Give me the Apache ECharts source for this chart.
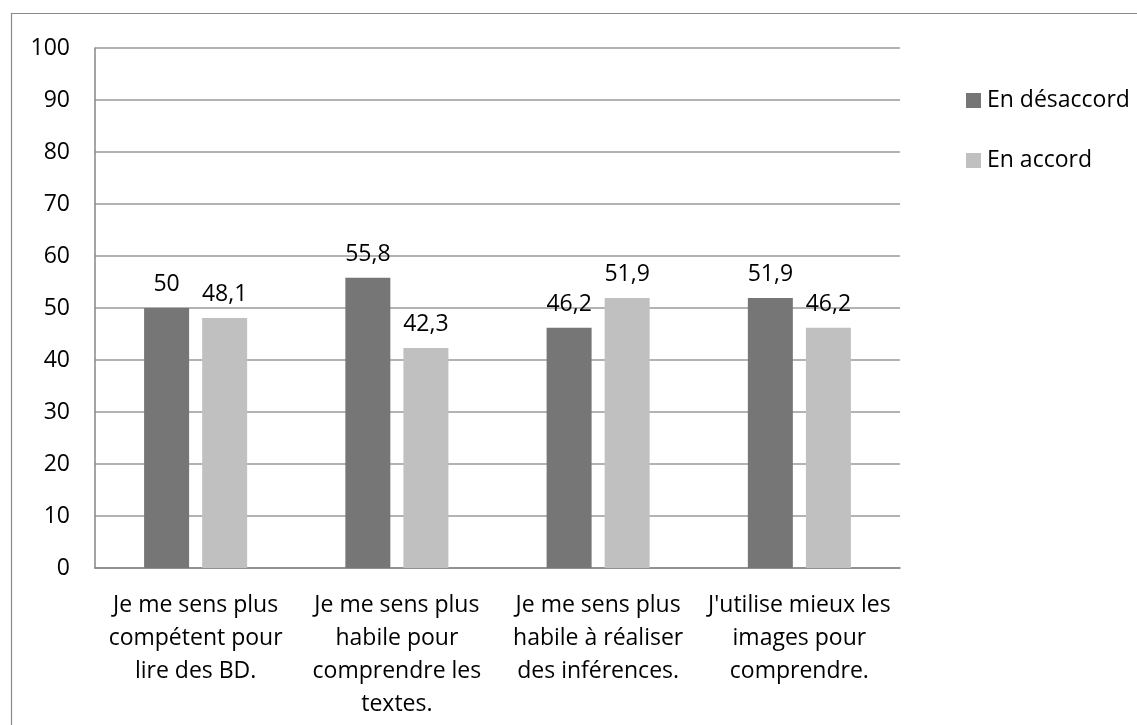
<!DOCTYPE html>
<html>
<head>
<meta charset="utf-8">
<script src="https://cdn.jsdelivr.net/npm/echarts@6/dist/echarts.min.js"></script>
<style>
html,body{margin:0;padding:0;background:#fff;}
#c{width:1137px;height:725px;}
</style>
</head>
<body>
<div id="c"></div>
<script>
const categories = [
  "Je me sens plus\ncompétent pour\nlire des BD.",
  "Je me sens plus\nhabile pour\ncomprendre les\ntextes.",
  "Je me sens plus\nhabile à réaliser\ndes inférences.",
  "J'utilise mieux les\nimages pour\ncomprendre."
];
const seriesNames = ["En désaccord", "En accord"];
const desaccord = [50, 55.8, 46.2, 51.9];
const accord = [48.1, 42.3, 51.9, 46.2];
const yTicks = [0, 10, 20, 30, 40, 50, 60, 70, 80, 90, 100];

const FONT = "'Open Sans', 'Noto Sans', sans-serif";
const FS = 23;
const chart = echarts.init(document.getElementById('c'));
const fmt = p => String(p.value).replace('.', ',');
chart.setOption({
  animation: false,
  backgroundColor: '#fff',
  textStyle: { fontFamily: FONT },
  graphic: [{
    type: 'rect', silent: true, z: -1,
    shape: { x: 11.5, y: 13.5, width: 1140, height: 730 },
    style: { fill: 'none', stroke: '#8a8a8a', lineWidth: 1.2 }
  }],
  legend: {
    orient: 'vertical',
    left: 961, top: 84,
    itemWidth: 15, itemHeight: 15, itemGap: 37,
    icon: 'rect',
    textStyle: { fontSize: FS, lineHeight: 23, color: '#000', fontFamily: FONT, padding: [0, 0, 0, 1] },
    data: seriesNames
  },
  grid: { left: 95, right: 237, top: 48, bottom: 157, containLabel: false },
  xAxis: {
    type: 'category',
    data: categories,
    axisLine: { show: true, lineStyle: { color: '#868686', width: 1.5 } },
    axisTick: { show: false },
    axisLabel: { color: '#000', fontSize: FS, lineHeight: 33, margin: 21, interval: 0, fontFamily: FONT, align: 'center' }
  },
  yAxis: {
    type: 'value',
    min: yTicks[0], max: yTicks[yTicks.length - 1], interval: 10,
    axisLine: { show: true, lineStyle: { color: '#868686', width: 1.5 } },
    axisTick: { show: false },
    splitLine: { lineStyle: { color: '#9a9a9a', width: 1.5 } },
    axisLabel: { color: '#000', fontSize: FS, margin: 25, fontFamily: FONT }
  },
  series: [
    {
      name: seriesNames[0], type: 'bar', data: desaccord,
      barWidth: 45, barGap: '29%',
      itemStyle: { color: '#767676' },
      label: { show: true, position: 'top', distance: 12, color: '#000', fontSize: FS, fontFamily: FONT, formatter: fmt }
    },
    {
      name: seriesNames[1], type: 'bar', data: accord,
      barWidth: 45, barGap: '29%',
      itemStyle: { color: '#c0c0c0' },
      label: { show: true, position: 'top', distance: 12, color: '#000', fontSize: FS, fontFamily: FONT, formatter: fmt }
    }
  ]
});
</script>
</body>
</html>
